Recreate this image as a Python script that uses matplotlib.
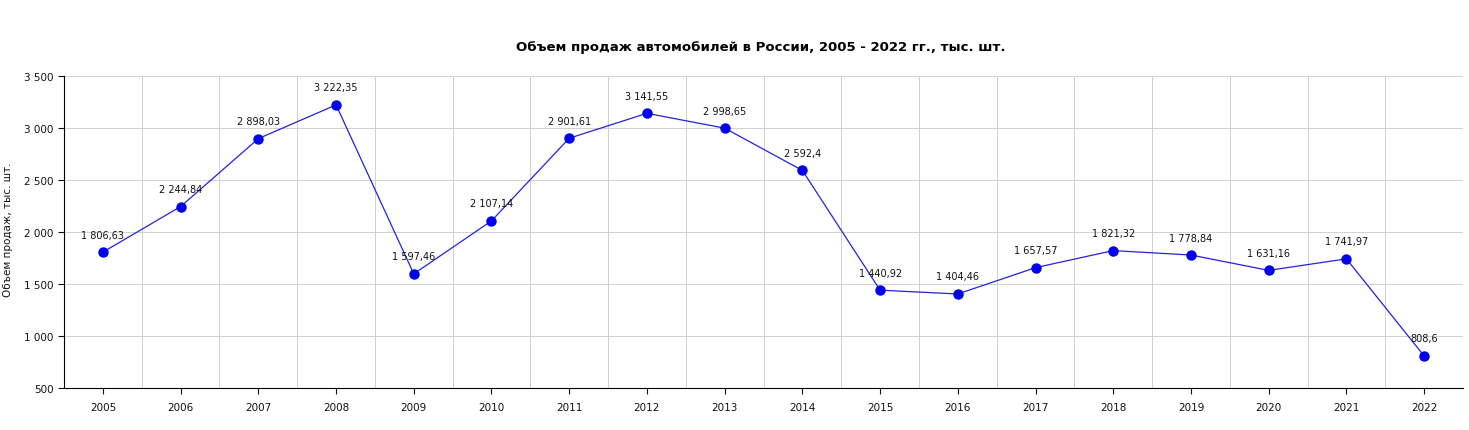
import numpy as np
import matplotlib
matplotlib.use("Agg")
import matplotlib.pyplot as plt
from matplotlib.ticker import FuncFormatter

years = [str(y) for y in range(2005, 2023)]
sales = [1806.63, 2244.84, 2898.03, 3222.35, 1597.46, 2107.14, 2901.61, 3141.55,
         2998.65, 2592.4, 1440.92, 1404.46, 1657.57, 1821.32, 1778.84, 1631.16,
         1741.97, 808.6]
title = "Объем продаж автомобилей в России, 2005 - 2022 гг., тыс. шт."
ylabel = "Объем продаж, тыс. шт."


def ru_num(v):
    s = f"{v:,.2f}".rstrip("0").rstrip(".")
    return s.replace(",", " ").replace(".", ",")


plt.rcParams['font.family'] = ['DejaVu Sans']
fig = plt.figure(figsize=(14.69, 4.31), dpi=100)
ax = fig.add_axes([0.0436, 0.0974, 0.9523, 0.7239])

x = np.arange(len(years))
ax.plot(x, sales, color="#2222dd", lw=0.9, zorder=3)
ax.plot(x, sales, "o", color="#0000ee", ms=6.5, zorder=4)
for xi, v in zip(x, sales):
    ax.annotate(ru_num(v), (xi, v), xytext=(0, 9), textcoords="offset points",
                ha="center", va="bottom", fontsize=7, color="#111111", zorder=5)

ax.set_xlim(-0.5, len(years) - 0.5)
ax.set_ylim(500, 3500)
ax.set_xticks(x)
ax.set_xticklabels(years)
ax.set_yticks(np.arange(500, 3501, 500))
ax.yaxis.set_major_formatter(FuncFormatter(lambda v, p: f"{int(v):,}".replace(",", " ")))
ax.tick_params(axis="both", labelsize=7.5, colors="#111111", length=4, width=0.8)
ax.tick_params(axis="x", pad=6)

# grid: horizontal at ticks, vertical at category boundaries
ax.grid(axis="y", color="#d0d0d0", lw=0.7)
for b in np.arange(0.5, len(years) - 0.5 + 0.01, 1.0):
    ax.axvline(b, color="#d0d0d0", lw=0.7, zorder=0)
ax.set_axisbelow(True)

for s in ["top", "right"]:
    ax.spines[s].set_visible(False)
ax.spines["left"].set_color("black")
ax.spines["bottom"].set_color("black")

ax.set_ylabel("")
fig.text(0.0055, 0.466, ylabel, rotation=90, ha="center", va="center",
         fontsize=7.5, color="#111111")
fig.text(0.518, 0.89, title, ha="center", va="center", fontsize=9.5, fontweight="bold")

fig.savefig("out.png", dpi=100)
